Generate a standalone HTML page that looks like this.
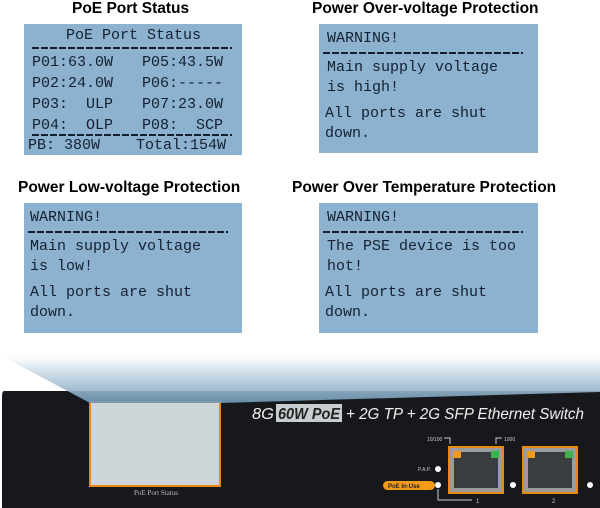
<!DOCTYPE html>
<html><head><meta charset="utf-8"><style>
body{margin:0;width:600px;height:508px;background:#fff;position:relative;overflow:hidden;font-family:"Liberation Sans",sans-serif}
.t{position:absolute;font-weight:bold;font-size:15.5px;color:#000;white-space:nowrap}
.b{position:absolute;background:#8db2d0;font-family:"Liberation Mono",monospace;font-size:15px;color:#142030;white-space:pre;line-height:20px}
.l{position:absolute;white-space:pre}
.d{position:absolute;height:2px;background:repeating-linear-gradient(90deg,#142030 0 7px,transparent 7px 9px)}
</style></head><body>
<div class="t" style="left:72px;top:0px">PoE Port Status</div>
<div class="t" style="left:312px;top:0px">Power Over-voltage Protection</div>
<div class="t" style="left:18px;top:179px">Power Low-voltage Protection</div>
<div class="t" style="left:292px;top:179px">Power Over Temperature Protection</div>

<div class="b" style="left:24px;top:24px;width:218px;height:131px">
<div class="l" style="left:42px;top:2px">PoE Port Status</div>
<div class="d" style="left:8px;top:23px;width:200px"></div>
<div class="l" style="left:8px;top:29px">P01:63.0W</div><div class="l" style="left:118px;top:29px">P05:43.5W</div>
<div class="l" style="left:8px;top:50px">P02:24.0W</div><div class="l" style="left:118px;top:50px">P06:-----</div>
<div class="l" style="left:8px;top:71px">P03:  ULP</div><div class="l" style="left:118px;top:71px">P07:23.0W</div>
<div class="l" style="left:8px;top:92px">P04:  OLP</div><div class="l" style="left:118px;top:92px">P08:  SCP</div>
<div class="d" style="left:8px;top:110px;width:200px"></div>
<div class="l" style="left:4px;top:112px">PB: 380W</div><div class="l" style="left:112px;top:112px">Total:154W</div>
</div>

<div class="b" style="left:319px;top:24px;width:219px;height:129px">
<div class="l" style="left:8px;top:5px">WARNING!</div>
<div class="d" style="left:4px;top:28px;width:200px"></div>
<div class="l" style="left:8px;top:34px">Main supply voltage</div>
<div class="l" style="left:8px;top:54px">is high!</div>
<div class="l" style="left:6px;top:80px">All ports are shut</div>
<div class="l" style="left:6px;top:100px">down.</div>
</div>

<div class="b" style="left:24px;top:203px;width:218px;height:130px">
<div class="l" style="left:6px;top:5px">WARNING!</div>
<div class="d" style="left:4px;top:28px;width:200px"></div>
<div class="l" style="left:6px;top:34px">Main supply voltage</div>
<div class="l" style="left:6px;top:54px">is low!</div>
<div class="l" style="left:6px;top:80px">All ports are shut</div>
<div class="l" style="left:6px;top:100px">down.</div>
</div>

<div class="b" style="left:319px;top:203px;width:219px;height:130px">
<div class="l" style="left:8px;top:5px">WARNING!</div>
<div class="d" style="left:4px;top:28px;width:200px"></div>
<div class="l" style="left:8px;top:34px">The PSE device is too</div>
<div class="l" style="left:8px;top:54px">hot!</div>
<div class="l" style="left:6px;top:80px">All ports are shut</div>
<div class="l" style="left:6px;top:100px">down.</div>
</div>

<svg style="position:absolute;left:0;top:0" width="600" height="508">
<defs>
<linearGradient id="g" x1="0" y1="0" x2="0" y2="1"><stop offset="0" stop-color="#fff" stop-opacity="0"/><stop offset="0.3" stop-color="#dfe9f1"/><stop offset="1" stop-color="#6f9ab8"/></linearGradient>
</defs>
<path d="M4,391 Q2,391 2,397 L2,508 L600,508 L600,391 Z" fill="#16181b"/>
<rect x="90" y="402" width="130" height="84" fill="#ced6d9" stroke="#e88a10" stroke-width="2"/>
<path d="M0,350 L600,350 L600,392 L220,403 L90,403 L0,355 Z" fill="url(#g)" opacity="0.9"/>
<text x="156" y="495" font-size="7" fill="#bbb" text-anchor="middle" font-family="Liberation Serif">PoE Port Status</text>
<text x="252" y="419" font-size="16" fill="#f0f0f0" font-style="italic" font-family="Liberation Sans Narrow, Liberation Sans" textLength="22" lengthAdjust="spacingAndGlyphs">8G</text>
<rect x="276" y="404" width="66" height="18" fill="#c8cdd0"/>
<text x="278" y="419" font-size="16" fill="#222" font-style="italic" font-weight="bold" font-family="Liberation Sans Narrow, Liberation Sans" textLength="62" lengthAdjust="spacingAndGlyphs">60W PoE</text>
<text x="346" y="419" font-size="16" fill="#f0f0f0" font-style="italic" font-family="Liberation Sans Narrow, Liberation Sans" textLength="238" lengthAdjust="spacingAndGlyphs">+ 2G TP + 2G SFP Ethernet Switch</text>
<text x="427" y="441" font-size="5" fill="#ccc">10/100</text>
<path d="M444,438 H450 V444" stroke="#ccc" fill="none"/>
<path d="M496,444 V438 H502" stroke="#ccc" fill="none"/>
<text x="504" y="441" font-size="5" fill="#ccc">1000</text>
<g>
<rect x="449" y="447" width="54" height="46" fill="#9a9c9e" stroke="#e88a10" stroke-width="2"/>
<path d="M454,452 H498 V488 H454 Z" fill="#3a3d40"/>
<rect x="453" y="451" width="8" height="7" fill="#f29a1a"/><rect x="491" y="451" width="8" height="7" fill="#3cb34a"/>
<rect x="523" y="447" width="54" height="46" fill="#9a9c9e" stroke="#e88a10" stroke-width="2"/>
<path d="M528,452 H572 V488 H528 Z" fill="#3a3d40"/>
<rect x="527" y="451" width="8" height="7" fill="#f29a1a"/><rect x="565" y="451" width="8" height="7" fill="#3cb34a"/>
</g>
<text x="418" y="471" font-size="5" fill="#ccc">P.A.P.</text>
<circle cx="438" cy="469" r="3" fill="#fff"/>
<rect x="383" y="481" width="52" height="9" rx="4.5" fill="#f29a1a"/>
<text x="388" y="488" font-size="6" fill="#222" font-weight="bold">PoE In-Use</text>
<circle cx="438" cy="485" r="3" fill="#fff"/>
<circle cx="513" cy="485" r="3" fill="#fff"/><circle cx="590" cy="485" r="3" fill="#fff"/>
<path d="M438,489 V500 H472" stroke="#ccc" fill="none"/>
<text x="476" y="503" font-size="6" fill="#ccc">1</text>
<text x="552" y="503" font-size="6" fill="#ccc">2</text>
</svg>
</body></html>
